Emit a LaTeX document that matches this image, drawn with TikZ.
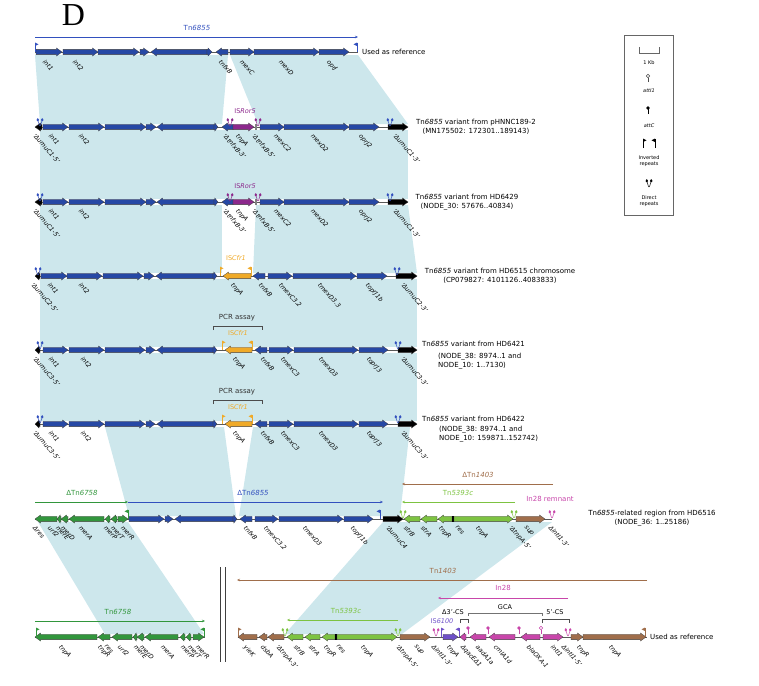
\documentclass[tikz,border=0pt]{standalone}
\usepackage{fontspec}
\setmainfont{DejaVu Sans}
\newfontfamily\bigserif{Liberation Serif}
\usetikzlibrary{arrows.meta}
\definecolor{tnblue}{RGB}{38,72,165}
\definecolor{labblue}{RGB}{50,80,190}
\definecolor{isror}{RGB}{140,40,140}
\definecolor{iscfr}{RGB}{240,170,40}
\definecolor{dgreen}{RGB}{50,150,60}
\definecolor{lgreen}{RGB}{125,195,65}
\definecolor{brownish}{RGB}{160,110,75}
\definecolor{pinkish}{RGB}{200,70,170}
\definecolor{isviolet}{RGB}{110,80,200}
\definecolor{homol}{RGB}{205,231,236}
\tikzset{
 gene/.style={draw=black!75,line width=0.3pt},
 bb/.style={draw=black!65,line width=0.5pt},
 glab/.style={font=\fontsize{6.2}{6.5}\selectfont\itshape,rotate=-48,anchor=north west,inner sep=0pt},
 desc/.style={font=\fontsize{7}{8.6}\selectfont,align=center,inner sep=0pt},
 descl/.style={font=\fontsize{7}{8.6}\selectfont,anchor=west,inner sep=0pt},
 tlab/.style={font=\fontsize{7}{8}\selectfont,inner sep=0pt},
 islab/.style={font=\fontsize{6.5}{7}\selectfont,inner sep=0pt},
 leg/.style={font=\fontsize{5}{6}\selectfont,inner sep=0pt,align=center},
 span/.style={line width=0.5pt,-{Stealth[length=3pt,width=2.5pt]}},
 homolfill/.style={fill=homol,draw=none},
}
\newcommand\geneR[4]{%
 \pgfmathsetmacro{\hx}{max(#1,#2-min(5.5,0.8*(#2-#1)))}%
 \draw[gene,fill=#4] (#1,#3-2.6) -- (\hx,#3-2.6) -- (\hx,#3-4) -- (#2,#3) -- (\hx,#3+4) -- (\hx,#3+2.6) -- (#1,#3+2.6) -- cycle;}
\newcommand\geneL[4]{%
 \pgfmathsetmacro{\hx}{min(#2,#1+min(5.5,0.8*(#2-#1)))}%
 \draw[gene,fill=#4] (#2,#3-2.6) -- (\hx,#3-2.6) -- (\hx,#3-4) -- (#1,#3) -- (\hx,#3+4) -- (\hx,#3+2.6) -- (#2,#3+2.6) -- cycle;}
\newcommand\irflagR[3]{\draw[#3,line width=0.5pt] (#1,#2) -- (#1,#2-9); \fill[#3] (#1,#2-9.5) -- (#1+3.5,#2-7.7) -- (#1,#2-5.9) -- cycle;}
\newcommand\irflagL[3]{\draw[#3,line width=0.5pt] (#1,#2) -- (#1,#2-9); \fill[#3] (#1,#2-9.5) -- (#1-3.5,#2-7.7) -- (#1,#2-5.9) -- cycle;}
\newcommand\drep[3]{\draw[#3,line width=0.5pt] (#1-0.4,#2-1) -- (#1-2.2,#2-7) (#1+0.4,#2-1) -- (#1+2.2,#2-7);
 \fill[#3] (#1-2.2,#2-9) -- (#1-0.9,#2-7) -- (#1-2.2,#2-5.6) -- (#1-3.5,#2-7) -- cycle
           (#1+2.2,#2-9) -- (#1+3.5,#2-7) -- (#1+2.2,#2-5.6) -- (#1+0.9,#2-7) -- cycle;}
\newcommand\attCp[3]{\draw[#3,line width=0.5pt] (#1,#2-3) -- (#1,#2-8); \fill[#3] (#1,#2-9) circle (1.8);}
\newcommand\attIp[3]{\draw[#3,line width=0.5pt] (#1,#2-3) -- (#1,#2-7.2); \draw[#3,fill=white,line width=0.5pt] (#1,#2-9) circle (1.8);}
\newcommand\glabel[3]{\node[glab] at (#1,#2) {#3};}
\newcommand\resmark[2]{\fill[black] (#1-0.8,#2-3.2) rectangle (#1+0.8,#2+3.2);}
\newcommand\rowISR[1]{%
 \draw[bb] (35,#1) -- (408,#1);
 \geneL{35}{42}{#1}{black}
 \geneR{43}{68}{#1}{tnblue} \geneR{69}{104}{#1}{tnblue} \geneR{105}{146}{#1}{tnblue} \geneR{146}{156}{#1}{tnblue}
 \geneL{157}{214}{#1}{tnblue} \geneR{214}{218}{#1}{tnblue} \geneL{222}{233}{#1}{tnblue}
 \geneR{233}{254}{#1}{isror}
 \fill[gray] (255,#1-3) rectangle (257,#1+3);
 \geneR{260}{284}{#1}{tnblue} \geneR{284}{349}{#1}{tnblue} \geneR{349}{379}{#1}{tnblue}
 \geneR{388}{408}{#1}{black}
 \drep{40}{#1}{labblue} \drep{390}{#1}{labblue} \drep{230}{#1}{isror} \drep{258}{#1}{isror}
 \node[islab,text=isror] at (245,#1-16) {IS\textit{Ror5}};
 \glabel{36}{#1+6}{`ΔumuC1-5'} \glabel{52}{#1+6}{int1} \glabel{82}{#1+6}{int2}
 \glabel{226}{#1+6}{`ΔtnfxB-3'} \glabel{239}{#1+6}{tnpA} \glabel{255}{#1+6}{`ΔtnfxB-5'}
 \glabel{277}{#1+6}{mexC2} \glabel{314}{#1+6}{mexD2} \glabel{362}{#1+6}{oprJ2} \glabel{396}{#1+6}{`ΔumuC1-3'}
}
\newcommand\rowCFR[1]{%
 \draw[bb] (35,#1) -- (417,#1);
 \geneL{35}{40}{#1}{black}
 \geneR{43}{68}{#1}{tnblue} \geneR{69}{104}{#1}{tnblue} \geneR{105}{145}{#1}{tnblue} \geneR{146}{155}{#1}{tnblue}
 \geneL{157}{213}{#1}{tnblue} \geneR{213}{217}{#1}{tnblue}
 \geneL{225}{252}{#1}{iscfr}
 \geneL{255}{267}{#1}{tnblue} \geneR{269}{293}{#1}{tnblue} \geneR{294}{358}{#1}{tnblue} \geneR{359}{388}{#1}{tnblue}
 \geneR{398}{417}{#1}{black}
 \drep{40}{#1}{labblue} \drep{398}{#1}{labblue}
 \irflagR{222}{#1}{iscfr} \irflagL{252}{#1}{iscfr}
 \node[islab,text=iscfr] at (238,#1-17) {IS\textit{Cfr1}};
 \node[tlab,text=black!80] at (237,#1-32) {PCR assay};
 \draw[black!70,line width=0.4pt] (213,#1-20) -- (213,#1-24) -- (262,#1-24) -- (262,#1-20);
 \glabel{36}{#1+6}{`ΔumuC3-5'} \glabel{52}{#1+6}{int1} \glabel{84}{#1+6}{int2}
 \glabel{236}{#1+6}{tnpA} \glabel{264}{#1+6}{tnfxB} \glabel{284}{#1+6}{tmexC3}
 \glabel{322}{#1+6}{tmexD3} \glabel{370}{#1+6}{toprJ3} \glabel{404}{#1+6}{`ΔumuC3-3'}
}
\begin{document}
\begin{tikzpicture}[x=1pt,y=-1pt]
\useasboundingbox (0,0) rectangle (759,685);
% ---------- homology shading ----------
\fill[homolfill] (35,55) -- (228,55) -- (222,124) -- (40,124) -- cycle;
\fill[homolfill] (230,55) -- (358,55) -- (408,124) -- (258,124) -- cycle;
\fill[homolfill] (40,130) -- (408,130) -- (408,199) -- (40,199) -- cycle;
\fill[homolfill] (40,205) -- (222,205) -- (222,273) -- (40,273) -- cycle;
\fill[homolfill] (256,205) -- (408,205) -- (417,273) -- (253,273) -- cycle;
\fill[homolfill] (40,279) -- (417,279) -- (417,347) -- (40,347) -- cycle;
\fill[homolfill] (40,353) -- (417,353) -- (417,421) -- (40,421) -- cycle;
\fill[homolfill] (105,427) -- (224,427) -- (236,516) -- (129,516) -- cycle;
\fill[homolfill] (253,427) -- (410,427) -- (400,516) -- (239,516) -- cycle;
\fill[homolfill] (38,522) -- (128,522) -- (204,634) -- (105,634) -- cycle;
\fill[homolfill] (383,522) -- (552,522) -- (402,634) -- (285,634) -- cycle;
% ---------- panel letter ----------
\node[font=\bigserif\fontsize{32}{32}\selectfont,anchor=base,inner sep=0pt] at (73.5,26) {D};
% ---------- row 1 ----------
\node[tlab,text=labblue] at (197,28) {Tn\textit{6855}};
\draw[span,labblue] (35,37) -- (358,37);
\draw[bb] (35,52) -- (358,52);
\geneR{36}{62}{52}{tnblue} \geneR{63}{98}{52}{tnblue} \geneR{98}{139}{52}{tnblue} \geneR{140}{149}{52}{tnblue}
\geneL{151}{207}{52}{tnblue} \geneR{207}{212}{52}{tnblue} \geneL{216}{228}{52}{tnblue}
\geneR{230}{254}{52}{tnblue} \geneR{254}{319}{52}{tnblue} \geneR{319}{349}{52}{tnblue}
\irflagR{35}{52}{labblue} \irflagL{357}{52}{labblue}
\node[descl] at (362,52) {Used as reference};
\glabel{46}{59}{int1} \glabel{76}{59}{int2} \glabel{222}{59}{tnfxB} \glabel{243}{59}{mexC} \glabel{282}{59}{mexD} \glabel{330}{59}{oprJ}
% ---------- rows 2,3 ----------
\rowISR{127}
\node[desc] at (476,127) {Tn\textit{6855} variant from pHNNC189-2\\(MN175502: 172301..189143)};
\rowISR{202}
\node[desc] at (467,202) {Tn\textit{6855} variant from HD6429\\(NODE\_30: 57676..40834)};
% ---------- row 4 ----------
\draw[bb] (35,276) -- (417,276);
\geneL{35}{40}{276}{black}
\geneR{41}{67}{276}{tnblue} \geneR{67}{102}{276}{tnblue} \geneR{103}{143}{276}{tnblue} \geneR{144}{154}{276}{tnblue}
\geneL{156}{213}{276}{tnblue} \geneR{213}{217}{276}{tnblue}
\geneL{223}{251}{276}{iscfr}
\geneL{253}{265}{276}{tnblue} \geneR{268}{292}{276}{tnblue} \geneR{293}{356}{276}{tnblue} \geneR{357}{387}{276}{tnblue}
\geneR{396}{417}{276}{black}
\drep{38}{276}{labblue} \drep{397}{276}{labblue}
\irflagR{220}{276}{iscfr} \irflagL{251}{276}{iscfr}
\node[islab,text=iscfr] at (236,258) {IS\textit{Cfr1}};
\glabel{34}{282}{`ΔumuC2-5'} \glabel{51}{282}{int1} \glabel{82}{282}{int2}
\glabel{234}{282}{tnpA} \glabel{262}{282}{tnfxB} \glabel{282}{282}{tmexC3.2}
\glabel{321}{282}{tmexD3.3} \glabel{369}{282}{toprJ1b} \glabel{404}{282}{`ΔumuC2-3'}
\node[desc] at (500,276) {Tn\textit{6855} variant from HD6515 chromosome\\(CP079827: 4101126..4083833)};
% ---------- rows 5,6 ----------
\rowCFR{350}
\node[descl] at (422,344) {Tn\textit{6855} variant from HD6421};
\node[descl,align=left,anchor=north west] at (438,353) {(NODE\_38: 8974..1 and\\NODE\_10: 1..7130)};
\rowCFR{424}
\node[descl] at (422,419) {Tn\textit{6855} variant from HD6422};
\node[descl,align=left,anchor=north west] at (439,426) {(NODE\_38: 8974..1 and\\NODE\_10: 159871..152742)};
% ---------- row 7 ----------
\node[tlab,text=dgreen] at (82,493) {ΔTn\textit{6758}};
\node[tlab,text=labblue] at (253,493) {ΔTn\textit{6855}};
\draw[span,dgreen] (35,502) -- (128,502);
\draw[span,labblue] (128,502) -- (383,502);
\node[tlab,text=brownish] at (478,475) {ΔTn\textit{1403}};
\draw[span,brownish] (553,484) -- (402,484);
\node[tlab,text=lgreen] at (458,493) {Tn\textit{5393c}};
\draw[span,lgreen] (515,502) -- (402,502);
\node[tlab,text=pinkish] at (550,499) {In28 remnant};
\draw[bb] (35,519) -- (552,519);
\geneL{35}{57}{519}{dgreen} \geneL{57}{61}{519}{dgreen} \geneL{61}{68}{519}{dgreen} \geneL{69}{104}{519}{dgreen}
\geneL{105}{110}{519}{dgreen} \geneL{111}{117}{519}{dgreen} \geneR{118}{128}{519}{dgreen}
\irflagL{128}{519}{dgreen}
\geneR{129}{164}{519}{tnblue} \geneR{165}{173}{519}{tnblue} \geneL{175}{233}{519}{tnblue} \geneR{233}{237}{519}{tnblue}
\geneL{240}{252}{519}{tnblue} \geneR{255}{278}{519}{tnblue} \geneR{279}{343}{519}{tnblue} \geneR{344}{373}{519}{tnblue}
\irflagL{380}{519}{labblue}
\geneR{383}{403}{519}{black}
\drep{403}{519}{lgreen}
\geneL{404}{420}{519}{lgreen} \geneL{421}{437}{519}{lgreen} \geneL{438}{452}{519}{lgreen} \resmark{453}{519}
\geneR{454}{513}{519}{lgreen}
\drep{514}{519}{lgreen}
\geneR{516}{545}{519}{brownish}
\drep{552}{519}{pinkish}
\glabel{36}{525}{Δres} \glabel{51}{525}{urf2} \glabel{59}{525}{merE} \glabel{64}{525}{merD} \glabel{82}{525}{merA}
\glabel{107}{525}{merP} \glabel{114}{525}{merT} \glabel{124}{525}{merR}
\glabel{247}{525}{tnfxB} \glabel{267}{525}{tmexC3.2} \glabel{306}{525}{tmexD3} \glabel{354}{525}{toprJ1b}
\glabel{389}{525}{`ΔumuC4} \glabel{407}{525}{strB} \glabel{424}{525}{strA} \glabel{442}{525}{tnpR} \glabel{458}{525}{res}
\glabel{479}{525}{tnpA} \glabel{512}{525}{`ΔtnpA-5'} \glabel{527}{525}{sup} \glabel{552}{525}{ΔintI1-3'}
\node[desc] at (652,518) {Tn\textit{6855}-related region from HD6516\\(NODE\_36: 1..25186)};
% ---------- row 8 left ----------
\node[tlab,text=dgreen] at (118,612) {Tn\textit{6758}};
\draw[span,dgreen] (35,621) -- (205,621);
\draw[bb] (35,637) -- (205,637);
\geneL{35}{97}{637}{dgreen} \geneL{98}{110}{637}{dgreen} \geneL{112}{132}{637}{dgreen} \geneL{133}{137}{637}{dgreen}
\geneL{137}{144}{637}{dgreen} \geneL{145}{178}{637}{dgreen} \geneL{180}{185}{637}{dgreen} \geneL{186}{191}{637}{dgreen}
\geneR{193}{204}{637}{dgreen}
\irflagR{36}{637}{dgreen} \irflagL{204}{637}{dgreen}
\glabel{62}{644}{tnpA} \glabel{101}{644}{tnpR} \glabel{107}{644}{res} \glabel{121}{644}{urf2} \glabel{137}{644}{merE}
\glabel{143}{644}{merD} \glabel{164}{644}{merA} \glabel{184}{644}{merP} \glabel{191}{644}{merT} \glabel{199}{644}{merR}
\draw[black!75,line width=0.6pt] (220,567) -- (220,662) (225,567) -- (225,662);
% ---------- row 8 right ----------
\node[tlab,text=brownish] at (443,571) {Tn\textit{1403}};
\draw[span,brownish] (647,580) -- (237,580);
\node[tlab,text=pinkish] at (503,588) {In28};
\draw[span,pinkish] (568,598) -- (438,598);
\node[tlab,text=lgreen] at (346,611) {Tn\textit{5393c}};
\draw[span,lgreen] (398,620) -- (287,620);
\node[islab,text=black] at (453,612) {Δ3'-CS};
\draw[black!70,line width=0.4pt] (460,623) -- (460,619.5) -- (468,619.5) -- (468,623);
\node[islab,text=black] at (505,607) {GCA};
\draw[black!55,line width=0.4pt] (468,616) -- (468,613) -- (542,613) -- (542,616);
\node[islab,text=black] at (555,612) {5'-CS};
\draw[black!70,line width=0.4pt] (542,623) -- (542,619.5) -- (569,619.5) -- (569,623);
\node[islab,text=isviolet] at (442,621) {IS\textit{6100}};
\draw[bb] (238,637) -- (647,637);
\geneL{238}{257}{637}{brownish} \geneL{259}{267}{637}{brownish} \geneL{268}{284}{637}{brownish}
\drep{285}{637}{lgreen}
\geneL{287}{303}{637}{lgreen} \geneL{305}{320}{637}{lgreen} \geneL{322}{335}{637}{lgreen} \resmark{336}{637}
\geneR{337}{397}{637}{lgreen}
\drep{398}{637}{lgreen}
\geneR{400}{430}{637}{brownish}
\drep{436}{637}{pinkish}
\irflagR{441}{637}{isviolet} \geneR{443}{458}{637}{isviolet} \irflagL{459}{637}{isviolet}
\geneL{460}{466}{637}{pinkish} \attCp{468}{637}{pinkish}
\geneL{470}{486}{637}{pinkish} \attCp{488}{637}{pinkish}
\geneL{489}{515}{637}{pinkish} \attCp{519}{637}{pinkish}
\geneL{521}{540}{637}{pinkish} \attIp{541}{637}{pinkish}
\geneR{543}{563}{637}{pinkish}
\drep{568}{637}{pinkish}
\geneR{571}{583}{637}{brownish} \geneR{583}{646}{637}{brownish}
\irflagR{238}{637}{brownish} \irflagL{645}{637}{brownish}
\glabel{247}{644}{yieK} \glabel{264}{644}{dsbA} \glabel{279}{644}{`ΔtnpA-3'} \glabel{297}{644}{strB} \glabel{312}{644}{strA}
\glabel{327}{644}{tnpR} \glabel{339}{644}{res} \glabel{364}{644}{tnpA} \glabel{399}{644}{`ΔtnpA-5'} \glabel{417}{644}{sup}
\glabel{435}{644}{ΔintI1-3'} \glabel{450}{644}{tnpA} \glabel{464}{644}{ΔqacEΔ1} \glabel{479}{644}{aadA1a}
\glabel{497}{644}{cmlA1d} \glabel{530}{644}{blaOXA-1} \glabel{554}{644}{intI1} \glabel{565}{644}{ΔintI1-5'}
\glabel{580}{644}{tnpR} \glabel{612}{644}{tnpA}
\node[descl] at (650,637) {Used as reference};
% ---------- legend ----------
\draw[black!60,line width=0.7pt] (624,35) rectangle (673,215);
\draw[black!60,line width=0.5pt] (639,47) -- (639,53) -- (659,53) -- (659,47);
\node[leg] at (649,63) {1 Kb};
\attIp{648}{85}{black!70}
\node[leg,font=\fontsize{5}{6}\selectfont\itshape] at (649,91) {attI1};
\attCp{648}{117}{black}
\node[leg,font=\fontsize{5}{6}\selectfont\itshape] at (649,126) {attC};
\irflagR{643}{148}{black} \irflagL{655}{148}{black}
\node[leg] at (649,161) {Inverted\\repeats};
\drep{649}{188}{black}
\node[leg] at (649,201) {Direct\\repeats};
\end{tikzpicture}
\end{document}
